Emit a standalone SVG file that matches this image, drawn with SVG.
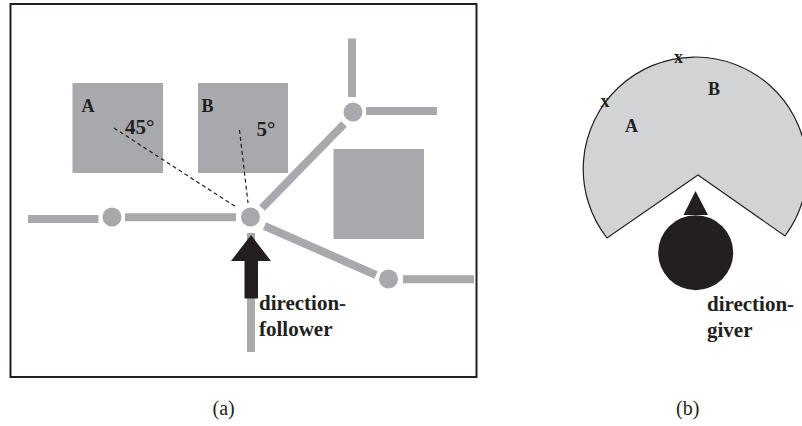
<svg xmlns="http://www.w3.org/2000/svg" width="802" height="426" viewBox="0 0 802 426">
<style>
text{font-family:"Liberation Serif","Times New Roman",serif;fill:#231f20}
.b{font-weight:bold;font-size:21px}
.l{font-weight:bold;font-size:18px}
.c{font-size:20px}
.bl{fill:#a7a9ac}
.r{stroke:#a7a9ac;stroke-width:8;fill:none}
.d{stroke:#231f20;stroke-width:1.2;stroke-dasharray:4 3;fill:none}
</style>
<rect width="802" height="426" fill="#fff"/>
<g id="panel-a">
<rect x="10.5" y="4" width="466" height="373" fill="#fff" stroke="#231f20" stroke-width="2"/>
</g>
<g id="block-a"><rect class="bl" x="72.5" y="83" width="90.5" height="90"/><text class="l" x="81.500" y="112">A</text></g>
<g id="block-b"><rect class="bl" x="198" y="83" width="90" height="90"/><text class="l" x="201.500" y="112">B</text></g>
<g id="block-c"><rect class="bl" x="333.500" y="149" width="90.500" height="90"/></g>
<g id="connectors">
<path class="r" d="M28 219H98.500M125 217.300H236M262 208L344 124M352 38.500V97M366 111H437M264.500 226L376 275M403 279.300H474M251 233V352"/>
<path class="d" d="M114 128L236 207M239.500 130L248 203"/>
</g>
<g id="node-1"><circle class="bl" cx="112" cy="217" r="9.500"/></g>
<g id="node-2"><circle class="bl" cx="250.500" cy="217" r="9.500"/></g>
<g id="node-3"><circle class="bl" cx="353" cy="112" r="9.500"/></g>
<g id="node-4"><circle class="bl" cx="388.500" cy="279" r="9.500"/></g>
<g id="direction-follower">
<path fill="#231f20" d="M251 235L271 261H258V298.500H244.500V261H231Z"/>
<text class="b" x="259" y="310">direction-</text>
<text class="b" x="259" y="336">follower</text>
</g>
<g id="angles">
<text class="b" x="125" y="134">45°</text>
<text class="b" x="256.500" y="136">5°</text>
</g>
<g id="sector">
<path fill="#d1d3d4" stroke="#231f20" stroke-width="1.200" d="M698 175L607 238A112 112 0 1 1 785 236Z"/>
<text class="l" x="600.500" y="107">x</text>
<text class="l" x="674" y="63">x</text>
<text class="l" x="625" y="132">A</text>
<text class="l" x="708" y="95">B</text>
</g>
<g id="direction-giver">
<path fill="#231f20" d="M695.500 191L708 215H683.500Z"/>
<circle cx="695.700" cy="252.700" r="37.500" fill="#231f20"/>
<text class="b" x="707" y="311">direction-</text>
<text class="b" x="707" y="337">giver</text>
</g>
<g id="captions">
<text class="c" x="212.500" y="415">(a)</text>
<text class="c" x="676" y="415">(b)</text>
</g>
</svg>
